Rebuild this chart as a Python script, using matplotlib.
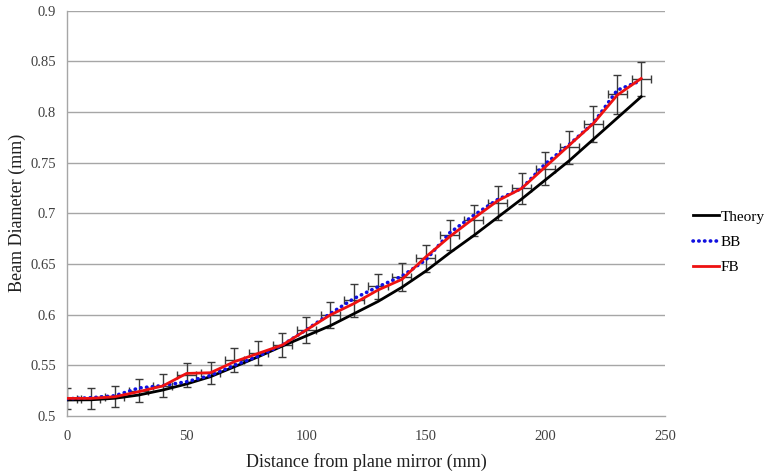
import matplotlib
matplotlib.use("Agg")
import matplotlib.pyplot as plt
from matplotlib.lines import Line2D

plt.rcParams['font.family'] = ['Liberation Serif', 'DejaVu Serif']

distance = [0, 10, 20, 30, 40, 50, 60, 70, 80, 90, 100, 110, 120, 130, 140,
            150, 160, 170, 180, 190, 200, 210, 220, 230, 240]
theory = [0.5158, 0.516, 0.5175, 0.5207, 0.5256, 0.5316, 0.5388, 0.5486, 0.5585,
          0.569, 0.579, 0.589, 0.601, 0.613, 0.627, 0.643, 0.661, 0.678, 0.696,
          0.714, 0.733, 0.752, 0.773, 0.794, 0.815]
bb = [0.517, 0.518, 0.520, 0.5276, 0.530, 0.5338, 0.540, 0.550, 0.559, 0.570,
      0.585, 0.601, 0.616, 0.6275, 0.638, 0.654, 0.6808, 0.698, 0.7136, 0.7245,
      0.749, 0.768, 0.789, 0.8215, 0.831]
fb = [0.5174, 0.5174, 0.519, 0.524, 0.5296, 0.542, 0.5427, 0.5536, 0.5618, 0.570,
      0.5848, 0.5996, 0.611, 0.6243, 0.6348, 0.657, 0.677, 0.695, 0.7123, 0.7245,
      0.7459, 0.7673, 0.7886, 0.8166, 0.833]
err_center = [0.517, 0.517, 0.519, 0.525, 0.530, 0.5405, 0.5426, 0.555, 0.562, 0.570,
              0.585, 0.5996, 0.614, 0.628, 0.637, 0.6555, 0.6785, 0.693, 0.710, 0.7245,
              0.744, 0.765, 0.788, 0.8174, 0.8325]
y_err = [0.0104, 0.0104, 0.0105, 0.0115, 0.0112, 0.0122, 0.011, 0.012, 0.012, 0.0117,
         0.0125, 0.013, 0.016, 0.0124, 0.0135, 0.013, 0.015, 0.015, 0.017, 0.015,
         0.0165, 0.016, 0.0176, 0.019, 0.017]
x_err = [4] * len(distance)

y_ticks = [0.5, 0.55, 0.6, 0.65, 0.7, 0.75, 0.8, 0.85, 0.9]
y_tick_labels = ['0.5', '0.55', '0.6', '0.65', '0.7', '0.75', '0.8', '0.85', '0.9']
x_ticks = [0, 50, 100, 150, 200, 250]

fig = plt.figure(figsize=(7.68, 4.75), dpi=100)
ax = fig.add_axes([0.0872, 0.1242, 0.7788, 0.8535])

for y in y_ticks[1:]:
    ax.axhline(y, color='#a6a6a6', lw=1, zorder=0)

dot_style = (0, (0.1, 1.5))
ax.errorbar(distance, err_center, yerr=y_err, xerr=x_err, fmt='none',
            ecolor='#3a3a3a', elinewidth=1, capsize=3, capthick=1, zorder=2)
ax.plot(distance, theory, color='black', lw=2, zorder=3, label='Theory')
ax.plot(distance, bb, color='#1010e0', lw=2.6, linestyle=dot_style,
        dash_capstyle='round', zorder=4, label='BB')
ax.plot(distance, fb, color='#ee1111', lw=2, zorder=5, label='FB')

ax.set_xlim(0, 250)
ax.set_ylim(0.5, 0.9)
ax.set_xticks(x_ticks)
ax.set_yticks(y_ticks)
ax.set_yticklabels(y_tick_labels)
ax.tick_params(axis='both', length=0, labelsize=10.5, colors='#404040')
ax.tick_params(axis='x', pad=10)
ax.tick_params(axis='y', pad=8)
for s in ['top', 'right']:
    ax.spines[s].set_visible(False)
for s in ['left', 'bottom']:
    ax.spines[s].set_color('#a6a6a6')
    ax.spines[s].set_linewidth(1)

ax.set_xlabel('Distance from plane mirror (mm)', fontsize=13, color='#202020', labelpad=7)
ax.set_ylabel('Beam Diameter (mm)', fontsize=13, color='#202020', labelpad=3)

handles = [Line2D([0], [0], color='black', lw=2),
           Line2D([0], [0], color='#1010e0', lw=2.6, linestyle=dot_style,
                  dash_capstyle='round'),
           Line2D([0], [0], color='#ee1111', lw=2)]
leg = fig.legend(handles, ['Theory', 'BB', 'FB'], loc='center left',
                 bbox_to_anchor=(0.902, 0.4905), frameon=False, fontsize=11,
                 handlelength=1.75, handletextpad=0.1, labelspacing=0.75,
                 borderaxespad=0, borderpad=0)

fig.savefig('out.png', dpi=100)
